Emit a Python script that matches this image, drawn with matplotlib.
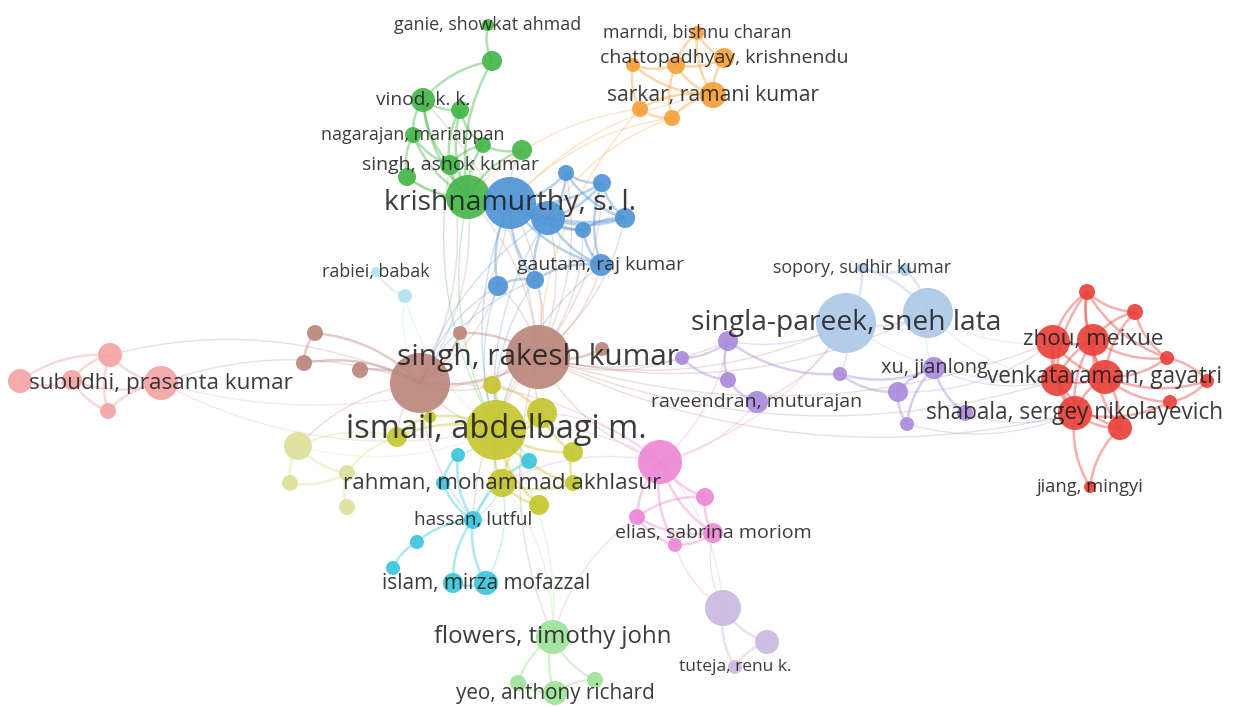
import matplotlib.pyplot as plt
from matplotlib.patches import Circle, PathPatch
from matplotlib.path import Path
import numpy as np

plt.rcParams['font.family'] = ['Open Sans', 'DejaVu Sans']

# cluster colours (VOSviewer style)
colors = {
    "G": "#45b649", "B": "#4f94d6", "O": "#f5a03a", "N": "#bb877c",
    "S": "#f4a4a4", "Y": "#c6c630", "P": "#dfe09a", "C": "#3cc6dc",
    "M": "#ee88d6", "L": "#cbb9e2", "F": "#9fe29a", "V": "#a98bdc",
    "U": "#adc9e7", "E": "#e8423c", "K": "#b3e2ee",
}

# nodes: id, cluster, map x, map y, weight (radius)
node_ids = ["ga", "gb", "gc", "gd", "ge", "gf", "gg", "gh", "gi", "gj",
            "ba", "bb", "bc", "bd", "be", "bf", "bg", "bh", "bi",
            "ca", "cb",
            "oa", "ob", "oc", "od", "oe", "of", "og",
            "na", "nb", "nc", "nd", "ne", "nf", "ng",
            "sa", "sb", "sc", "sd", "se",
            "ya", "yb", "yc", "yd", "ye", "yf", "yg", "yh", "yi",
            "pa", "pb", "pc", "pd",
            "ka", "kb", "kc", "kd", "ke", "kf", "kg", "kh",
            "ma", "mb", "mc", "md", "me",
            "la", "lb", "lc",
            "fa", "fb", "fc", "fd",
            "va", "vb", "vc", "vd", "ve", "vf", "vg", "vh", "vi",
            "ua", "ub", "uc", "ud",
            "ea", "eb", "ec", "ed", "ee", "ef", "eg", "eh", "ei", "ej", "ek", "el"]
node_cluster = ["G"] * 10 + ["B"] * 9 + ["K"] * 2 + ["O"] * 7 + ["N"] * 7 + ["S"] * 5 + \
               ["Y"] * 9 + ["P"] * 4 + ["C"] * 8 + ["M"] * 5 + ["L"] * 3 + ["F"] * 4 + \
               ["V"] * 9 + ["U"] * 4 + ["E"] * 12
node_x = [488, 492, 423, 460, 413, 483, 522, 450, 407, 468,
          510, 548, 566, 602, 625, 583, 601, 535, 498,
          376, 405,
          697, 633, 676, 724, 713, 640, 672,
          420, 538, 460, 602, 315, 304, 360,
          110, 20, 72, 161, 108,
          496, 542, 492, 397, 430, 573, 502, 573, 539,
          298, 290, 347, 347,
          458, 529, 443, 473, 417, 393, 453, 486,
          660, 705, 637, 713, 675,
          723, 767, 735,
          553, 518, 595, 555,
          682, 728, 728, 757, 840, 934, 898, 907, 965,
          846, 928, 862, 905,
          1087, 1135, 1053, 1093, 1167, 1057, 1105, 1075, 1170, 1120, 1207, 1090]
node_y = [25, 61, 100, 110, 135, 145, 150, 165, 177, 197,
          203, 218, 173, 183, 218, 230, 265, 280, 286,
          272, 296,
          33, 65, 65, 58, 95, 109, 118,
          383, 357, 333, 349, 333, 363, 370,
          355, 381, 380, 383, 411,
          430, 413, 385, 437, 417, 452, 483, 483, 505,
          446, 483, 473, 507,
          455, 461, 483, 520, 542, 568, 583, 583,
          462, 497, 517, 533, 545,
          608, 642, 667,
          637, 683, 680, 693,
          358, 341, 380, 402, 374, 368, 392, 424, 413,
          323, 313, 268, 270,
          292, 312, 342, 340, 358, 380, 377, 413, 402, 428, 381, 487]
node_r = [6, 10, 12, 9, 8, 8, 10, 10, 9, 22,
          26, 17, 8, 9, 10, 8, 11, 9, 10,
          5, 7,
          7, 7, 9, 10, 13, 8, 8,
          30, 32, 7, 7, 8, 8, 8,
          12, 12, 10, 17, 8,
          30, 15, 9, 10, 6, 10, 14, 8, 10,
          14, 8, 8, 8,
          7, 8, 7, 9, 7, 7, 10, 12,
          22, 9, 8, 10, 7,
          18, 12, 7,
          17, 8, 8, 12,
          7, 10, 8, 11, 7, 11, 10, 7, 8,
          30, 25, 5, 6,
          8, 8, 17, 16, 7, 16, 17, 17, 7, 12, 7, 6]

# labels: node id and text
label_nodes = ["ga", "gc", "ge", "gh", "ba", "bg", "ca", "oa", "od", "oe", "nb", "sd",
               "ya", "yg", "kd", "kh", "md", "lc", "fa", "fd", "vd", "vf", "ua", "uc",
               "ed", "eg", "eh", "el"]
label_text = ["ganie, showkat ahmad", "vinod, k. k.", "nagarajan, mariappan",
              "singh, ashok kumar", "krishnamurthy, s. l.", "gautam, raj kumar",
              "rabiei, babak", "marndi, bishnu charan", "chattopadhyay, krishnendu",
              "sarkar, ramani kumar", "singh, rakesh kumar", "subudhi, prasanta kumar",
              "ismail, abdelbagi m.", "rahman, mohammad akhlasur", "hassan, lutful",
              "islam, mirza mofazzal", "elias, sabrina moriom", "tuteja, renu k.",
              "flowers, timothy john", "yeo, anthony richard", "raveendran, muturajan",
              "xu, jianlong", "singla-pareek, sneh lata", "sopory, sudhir kumar",
              "zhou, meixue", "venkataraman, gayatri", "shabala, sergey nikolayevich",
              "jiang, mingyi"]
# font size of each label (pt)
label_size = [12.9, 13.8, 12.8, 14.0, 20.4, 14.0, 12.9, 12.9, 14.0, 15.2, 21.5, 16.2,
              23.5, 16.2, 13.7, 15.0, 14.0, 12.5, 17.3, 14.9, 14.0, 14.4, 20.3, 12.9,
              16.2, 16.3, 16.3, 13.2]

edges = [
    ("ga", "gb"), ("gb", "gc"), ("gb", "gj"), ("gc", "gd"), ("gc", "ge"), ("gc", "gh"),
    ("gd", "gf"), ("gd", "gh"), ("ge", "gh"), ("ge", "gi"), ("gf", "gh"), ("gf", "gg"),
    ("gg", "gj"), ("gh", "gj"), ("gi", "gj"), ("gc", "gj"), ("ge", "gj"), ("gd", "gj"),
    ("gf", "gj"), ("gj", "ba"), ("gh", "ba"), ("gg", "ba"), ("gj", "bb"), ("gi", "ba"),
    ("ba", "bb"), ("ba", "bc"), ("ba", "bd"), ("ba", "be"), ("ba", "bf"), ("ba", "bg"),
    ("ba", "bh"), ("ba", "bi"), ("bb", "bc"), ("bb", "bd"), ("bb", "be"), ("bb", "bf"),
    ("bb", "bg"), ("bc", "bd"), ("bd", "be"), ("be", "bf"), ("bf", "bg"), ("bg", "bh"),
    ("bh", "bi"), ("bc", "be"), ("bb", "bh"), ("bd", "bg"),
    ("oa", "oc"), ("oa", "od"), ("oa", "oe"), ("ob", "oc"), ("ob", "of"), ("oc", "od"),
    ("oc", "oe"), ("od", "oe"), ("oe", "of"), ("oe", "og"), ("of", "og"), ("ob", "oe"),
    ("oc", "og"), ("of", "gj"), ("og", "ba"), ("of", "nb"), ("og", "bb"), ("oe", "ba"),
    ("na", "nb"), ("na", "nc"), ("na", "ne"), ("na", "nf"), ("na", "ng"), ("nb", "nd"),
    ("nb", "nc"), ("ne", "nf"),
    ("nb", "ba"), ("nb", "bb"), ("nb", "bg"), ("nb", "bh"), ("nb", "bi"), ("nb", "gj"),
    ("na", "ba"), ("na", "gj"), ("na", "bi"), ("nb", "ya"), ("nb", "yb"), ("nb", "yc"),
    ("na", "ya"), ("na", "yd"), ("na", "yc"), ("nb", "ma"), ("nb", "vb"), ("nb", "va"),
    ("nb", "ua"), ("na", "sd"), ("na", "sa"), ("nb", "ub"), ("nb", "kd"), ("na", "kd"),
    ("nb", "fa"), ("na", "pa"), ("nb", "eh"), ("nb", "ec"), ("na", "gh"), ("nb", "gc"),
    ("nb", "bd"), ("nb", "be"), ("nb", "bc"), ("nb", "bf"), ("nb", "ef"),
    ("ba", "ya"), ("bb", "ya"), ("bg", "ya"), ("bh", "ya"), ("bi", "ya"), ("gj", "ya"),
    ("gh", "ya"), ("bb", "na"), ("bi", "na"), ("bh", "na"),
    ("sa", "sb"), ("sa", "sc"), ("sa", "sd"), ("sb", "sc"), ("sc", "sd"), ("sd", "se"),
    ("sc", "se"), ("sa", "se"), ("sd", "nb"), ("sd", "ya"),
    ("ca", "cb"), ("cb", "ya"), ("cb", "na"),
    ("ya", "yb"), ("ya", "yc"), ("ya", "yd"), ("ya", "ye"), ("ya", "yf"), ("ya", "yg"),
    ("ya", "yh"), ("ya", "yi"), ("yb", "yc"), ("yb", "yf"), ("yb", "yg"), ("yg", "yh"),
    ("yg", "yi"), ("yd", "pa"), ("yd", "pc"), ("ye", "yd"), ("yf", "yh"),
    ("pa", "pb"), ("pa", "pc"), ("pb", "pc"), ("pc", "pd"), ("pa", "ya"),
    ("ka", "kc"), ("ka", "ya"), ("kb", "ya"), ("kc", "kd"), ("kd", "ke"), ("ke", "kf"),
    ("kd", "kg"), ("kd", "kh"), ("kg", "kh"), ("kb", "kd"), ("ka", "kd"), ("kd", "ya"),
    ("kd", "yg"), ("kh", "yg"),
    ("ma", "mb"), ("ma", "mc"), ("ma", "md"), ("ma", "me"), ("mb", "md"), ("mc", "md"),
    ("mc", "me"), ("me", "md"), ("mb", "mc"), ("ma", "ya"), ("ma", "yb"), ("ma", "yg"),
    ("ma", "vb"), ("ma", "vd"), ("ma", "na"), ("md", "la"), ("me", "la"), ("mc", "fa"),
    ("ma", "ua"),
    ("la", "lb"), ("la", "lc"), ("lb", "lc"), ("la", "ma"),
    ("fa", "fb"), ("fa", "fc"), ("fa", "fd"), ("fb", "fd"), ("fc", "fd"), ("fa", "yg"),
    ("fa", "ya"),
    ("va", "vb"), ("vb", "vc"), ("vc", "vd"), ("va", "vc"), ("vb", "ve"), ("ve", "vf"),
    ("ve", "vg"), ("vf", "vg"), ("vg", "vh"), ("vf", "vh"), ("vf", "vi"), ("vh", "eh"),
    ("vg", "ec"), ("vf", "ef"), ("vb", "ua"), ("vd", "ua"), ("vi", "eh"), ("ve", "ua"),
    ("ua", "ub"), ("ua", "uc"), ("ub", "uc"), ("ub", "ud"), ("uc", "ud"), ("ub", "ec"),
    ("ub", "ef"), ("ua", "ef"), ("ub", "vf"),
    ("ea", "eb"), ("ea", "ec"), ("ea", "ed"), ("ea", "ef"), ("eb", "ed"), ("eb", "ee"),
    ("ec", "ed"), ("ec", "ef"), ("ec", "eg"), ("ed", "eg"), ("ed", "ef"), ("ef", "eg"),
    ("ef", "eh"), ("eg", "eh"), ("eg", "ee"), ("eg", "ei"), ("eg", "ek"), ("eh", "ej"),
    ("eh", "ei"), ("ej", "eg"), ("ek", "ee"), ("ei", "ek"), ("eh", "el"), ("ej", "el"),
    ("ed", "ee"), ("ec", "eh"), ("ed", "eh"), ("ea", "eg"), ("eb", "eg"), ("ea", "ee"),
    ("ef", "ej"), ("ed", "ej"),
]

idx = {n: i for i, n in enumerate(node_ids)}

fig = plt.figure(figsize=(12.38, 7.07), dpi=100)
ax = fig.add_axes([0, 0, 1, 1])
ax.set_xlim(0, 1238)
ax.set_ylim(707, 0)
ax.set_aspect('equal')
ax.axis('off')

# links as curved lines; links inside a cluster are drawn heavier
for a, b in edges:
    i, j = idx[a], idx[b]
    p0 = np.array([node_x[i], node_y[i]], dtype=float)
    p1 = np.array([node_x[j], node_y[j]], dtype=float)
    d = p1 - p0
    mid = (p0 + p1) / 2 + 0.18 * np.array([-d[1], d[0]])
    path = Path([p0, mid, p1], [Path.MOVETO, Path.CURVE3, Path.CURVE3])
    col = colors[node_cluster[i]]
    same = node_cluster[i] == node_cluster[j]
    lw = 1.8 if same else 1.0
    al = 0.42 if same else 0.28
    ax.add_patch(PathPatch(path, fc='none', ec=col, lw=lw, alpha=al, zorder=1))

# nodes
for i in range(len(node_ids)):
    c = colors[node_cluster[i]]
    ax.add_patch(Circle((node_x[i], node_y[i]), node_r[i], fc=c, ec='none',
                        alpha=0.92, zorder=2))

# labels
for n, t, s in zip(label_nodes, label_text, label_size):
    i = idx[n]
    ax.text(node_x[i], node_y[i], t, fontsize=s, color='#1a1a1a',
            alpha=0.85, ha='center', va='center', zorder=3)

fig.savefig('out.png', dpi=100, facecolor='white')
